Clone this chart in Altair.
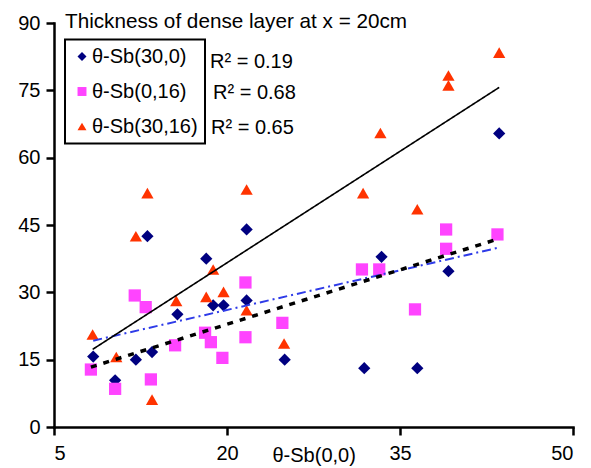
import altair as alt
import pandas as pd

# ---- data ----
series_names = ["θ-Sb(30,0)", "θ-Sb(0,16)", "θ-Sb(30,16)"]

x_30_0 = [8.4, 10.3, 12.1, 13.1, 13.5, 15.7, 18.2, 18.8, 19.7, 21.7, 21.7, 25.0, 31.9, 33.4, 36.5, 39.2, 43.6]
y_30_0 = [15.7, 10.4, 15.0, 42.5, 16.7, 25.1, 37.5, 27.1, 27.1, 44.0, 28.2, 15.0, 13.1, 37.9, 13.1, 34.7, 65.4]

x_0_16 = [8.2, 10.3, 12.0, 12.95, 13.4, 15.5, 18.1, 18.6, 19.6, 21.6, 21.6, 24.8, 31.7, 33.2, 36.3, 39.0, 39.0, 43.45]
y_0_16 = [12.8, 8.5, 29.3, 26.7, 10.6, 18.2, 21.0, 18.9, 15.4, 20.0, 32.2, 23.2, 35.1, 35.1, 26.2, 44.0, 39.7, 42.9]

x_30_16 = [8.35, 10.4, 12.1, 13.1, 13.5, 15.6, 18.2, 18.8, 19.7, 21.7, 21.7, 24.95, 31.8, 33.3, 36.5, 39.2, 39.2, 43.6]
y_30_16 = [20.6, 15.6, 42.5, 52.1, 6.1, 28.1, 29.0, 35.1, 30.1, 52.9, 26.0, 18.6, 52.1, 65.5, 48.5, 78.3, 76.1, 83.4]

r2_labels = ["R² = 0.19", "R² = 0.68", "R² = 0.65"]
title_text = ["Thickness of dense layer at x = 20cm"]

x_ticks = [5, 20, 35, 50]
y_ticks = [0, 15, 30, 45, 60, 75, 90]

rows = []
for i, (name, xs, ys) in enumerate(zip(series_names, [x_30_0, x_0_16, x_30_16], [y_30_0, y_0_16, y_30_16])):
    for xv, yv in zip(xs, ys):
        rows.append({"series": name, "x": xv, "y": yv, "idx": i})
df = pd.DataFrame(rows)

colors = ["#000080", "#FF44FF", "#FF3300"]
shapes = ["diamond", "square", "triangle-up"]
FONT = "Liberation Sans"

xscale = alt.Scale(domain=[5, 50], nice=False, zero=False)
yscale = alt.Scale(domain=[0, 90], nice=False)

base = alt.Chart(df)

points = base.mark_point(filled=True, size=150, opacity=1).encode(
    x=alt.X("x:Q", scale=xscale,
            axis=alt.Axis(values=x_ticks, title="θ-Sb(0,0)", titleX=218, titleY=28,
                          titleAlign="left", titleBaseline="middle",
                          titleFontWeight="normal")),
    y=alt.Y("y:Q", scale=yscale, axis=alt.Axis(values=y_ticks, title=None)),
    color=alt.Color("series:N", scale=alt.Scale(domain=series_names, range=colors),
                    legend=alt.Legend(title=None, orient="none", legendX=11, legendY=16.5,
                                      strokeColor="black", padding=7, rowPadding=15,
                                      symbolSize=80, labelFontSize=20, labelFont=FONT,
                                      labelOffset=0, symbolStrokeWidth=0)),
    shape=alt.Shape("series:N", scale=alt.Scale(domain=series_names, range=shapes)),
    order=alt.Order("idx:Q"),
)

def trend(name, color, dash, width):
    return base.transform_filter(alt.datum.series == name).transform_regression(
        "x", "y").mark_line(color=color, strokeDash=dash, strokeWidth=width).encode(
        x=alt.X("x:Q", scale=xscale), y=alt.Y("y:Q", scale=yscale))

line_blue = trend(series_names[0], "#2E3BE8", [9, 4, 2, 4], 2)
line_pink = trend(series_names[1], "black", [6, 7], 3.5)
line_red = trend(series_names[2], "black", [1, 0], 1.6)

r2_df = pd.DataFrame({"label": r2_labels, "px": [156, 159, 157], "py": [39, 70, 104.6]})
r2 = alt.Chart(r2_df).mark_text(align="left", baseline="middle", fontSize=20, font=FONT,
                                color="black").encode(
    x=alt.X("px:Q", scale=None), y=alt.Y("py:Q", scale=None), text="label:N")

title_df = pd.DataFrame({"label": title_text, "px": [11], "py": [4.6]})
title = alt.Chart(title_df).mark_text(align="left", baseline="alphabetic", fontSize=20.7,
                                      font=FONT, color="black").encode(
    x=alt.X("px:Q", scale=None), y=alt.Y("py:Q", scale=None), text="label:N")

chart = alt.layer(points, line_blue, line_pink, line_red, r2, title).properties(
    width=519, height=404,
    autosize=alt.AutoSizeParams(type="none"),
    padding={"left": 54, "top": 23, "right": 18, "bottom": 41},
    background="white",
).configure_view(stroke=None).configure_axis(
    grid=False, domainColor="black", domainWidth=2.5, tickColor="black", tickWidth=2.5,
    tickSize=8, labelFontSize=20, labelFont=FONT, labelColor="black", labelPadding=6,
    titleFontSize=20, titleFont=FONT, titleColor="black", domainCap="square",
).configure_axisX(labelPadding=8).configure_legend(strokeWidth=2)

chart.save("out.html", embed_options={"renderer": "svg", "actions": False})
